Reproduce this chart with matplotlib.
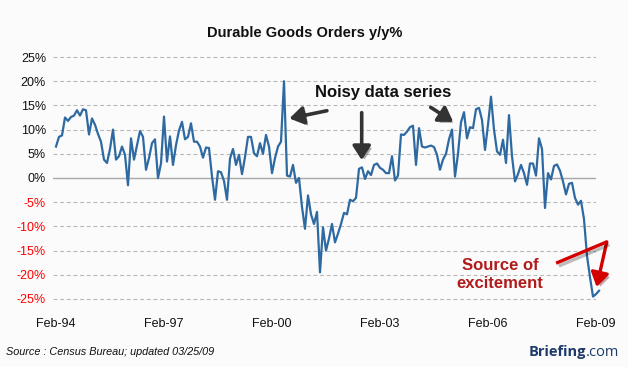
import matplotlib
matplotlib.use("Agg")
import matplotlib.pyplot as plt
import matplotlib.patheffects as pe
import numpy as np

# Durable goods orders, y/y %, monthly Feb-94 .. Feb-09
yoy_1994_1996 = [6.5, 8.5, 8.8, 12.5, 11.8, 12.6, 12.9, 14.0, 12.9, 14.2, 14.0, 9.0,
                 12.3, 11.0, 9.1, 7.5, 3.8, 3.1, 6.0, 10.0, 3.8, 4.5, 6.5, 4.8]
yoy_1996_1998 = [-1.5, 8.2, 3.8, 6.8, 9.7, 8.5, 1.7, 4.1, 7.2, 8.0, 0.0, 3.0,
                 12.7, 3.4, 8.6, 2.7, 6.8, 9.8, 11.6, 8.0, 8.5, 11.3, 7.5, 7.5]
yoy_1998_2000 = [6.5, 4.2, 6.3, 6.2, 0.3, -4.5, 1.4, 1.2, -0.6, -4.5, 4.0, 6.0,
                 2.7, 4.8, 0.8, 4.3, 8.5, 8.5, 5.1, 4.5, 7.2, 5.0, 8.9, 6.5]
yoy_2000_2002 = [1.0, 4.1, 6.5, 7.5, 20.0, 0.5, 0.3, 2.7, -1.0, 0.0, -6.0, -10.5,
                 -3.6, -7.5, -9.5, -7.0, -19.5, -10.2, -15.0, -12.5, -9.5, -13.3, -11.5, -9.5]
yoy_2002_2004 = [-7.2, -7.5, -4.5, -4.8, -4.1, 1.9, 2.2, -0.2, 1.4, 0.6, 2.7, 3.0,
                 2.1, 1.7, 1.0, 1.0, 4.5, -0.5, 0.5, 9.0, 8.9, 9.6, 10.5, 10.8]
yoy_2004_2006 = [2.7, 10.3, 6.5, 6.3, 6.5, 6.7, 6.4, 4.8, 1.7, 3.8, 5.0, 8.0,
                 10.0, 0.3, 5.0, 11.5, 13.6, 8.2, 10.5, 10.3, 14.2, 14.5, 12.0, 5.8]
yoy_2006_2009 = [11.0, 16.8, 10.0, 5.5, 4.8, 7.9, 3.1, 13.0, 4.5, -0.7, 0.8, 2.7,
                 1.0, -1.4, 3.0, 3.0, 0.5, 8.2, 6.0, -6.2, 1.0, -0.3, 2.5, 2.8,
                 1.5, -0.7, -3.4, -1.2, -1.0, -4.1, -5.5, -4.7, -8.5, -16.1, -20.5,
                 -24.5, -24.0, -23.3]

yoy = (yoy_1994_1996 + yoy_1996_1998 + yoy_1998_2000 + yoy_2000_2002
       + yoy_2002_2004 + yoy_2004_2006 + yoy_2006_2009)
months = np.arange(len(yoy))  # 0 = Feb-94

tick_pos = [0, 36, 72, 108, 144, 180]
tick_labels = ['Feb-94', 'Feb-97', 'Feb-00', 'Feb-03', 'Feb-06', 'Feb-09']
y_ticks = [25, 20, 15, 10, 5, 0, -5, -10, -15, -20, -25]

W, H = 628, 367
bg = '#fbfbfb'
fig = plt.figure(figsize=(W / 100, H / 100), dpi=100, facecolor=bg)
ax = fig.add_axes([53 / W, 1 - 301.4 / H, (596 - 53) / W, (301.4 - 54.6) / H])
ax.set_facecolor(bg)

for v in y_ticks:
    if v == 0:
        ax.axhline(0, color='#a8a8a8', lw=1.0, zorder=1)
    else:
        ax.axhline(v, color='#b8b8b8', lw=0.8, ls=(0, (3.5, 2.5)), zorder=1)

ax.plot(months, yoy, color='#2e6aa1', lw=1.6, zorder=3, clip_on=False,
        solid_joinstyle='round')

ax.set_xlim(-1, 180)
ax.set_ylim(-25.5, 25.5)
for s in ax.spines.values():
    s.set_visible(False)

ax.set_xticks(tick_pos)
ax.set_xticklabels(tick_labels, fontsize=9, family='Liberation Sans', color='#111111')
ax.set_yticks(y_ticks)
ax.set_yticklabels(['%d%%' % v for v in y_ticks], fontsize=9, family='Liberation Sans')
for lab, v in zip(ax.get_yticklabels(), y_ticks):
    lab.set_color('red' if v < 0 else '#111111')
ax.tick_params(axis='both', length=0)
ax.tick_params(axis='x', pad=12)
ax.tick_params(axis='y', pad=5)

fig.text(0.485, 1 - 33 / H, 'Durable Goods Orders y/y%', ha='center', va='center',
         fontsize=10.5, fontweight='bold', family='Liberation Sans', color='#111111')

# annotations
shadow = [pe.SimplePatchShadow(offset=(2, -2), alpha=0.35), pe.Normal()]
ax.text(109, 17.6, 'Noisy data series', ha='center', va='center', fontsize=12,
        fontweight='bold', family='Liberation Sans', color='#111111')
arrow_kw = dict(arrowstyle='-|>,head_length=0.7,head_width=0.45', color='#333333',
                lw=2.6, shrinkA=0, shrinkB=0, mutation_scale=12, path_effects=shadow)
ax.annotate('', xy=(77.8, 12.3), xytext=(90.3, 13.9), arrowprops=arrow_kw)
ax.annotate('', xy=(101.9, 3.7), xytext=(101.9, 13.5), arrowprops=arrow_kw)
ax.annotate('', xy=(132.4, 11.6), xytext=(124.9, 14.6), arrowprops=arrow_kw)

ax.text(148, -20, 'Source of\nexcitement', ha='center', va='center', fontsize=12,
        fontweight='bold', family='Liberation Sans', color='#b01c1c', linespacing=1.25)
ax.plot([166.7, 183.6], [-17.6, -13.2], color='#d40000', lw=2.4, clip_on=False,
        solid_capstyle='butt', zorder=4,
        path_effects=[pe.SimpleLineShadow(offset=(2, -2), alpha=0.25), pe.Normal()])
red_kw = dict(arrow_kw)
red_kw['color'] = '#d40000'
red_kw['lw'] = 2.4
ax.annotate('', xy=(180.2, -22.5), xytext=(183.6, -13.2), arrowprops=red_kw,
            annotation_clip=False)

fig.text(6 / W, 1 - 352 / H, 'Source : Census Bureau; updated 03/25/09', ha='left',
         va='center', fontsize=7.8, style='italic', family='Liberation Sans', color='#111111')
fig.text(586 / W, 1 - 352 / H, 'Briefing', ha='right', va='center', fontsize=10.5,
         fontweight='bold', family='Open Sans', color='#1d3a6b')
fig.text(586 / W, 1 - 352 / H, '.com', ha='left', va='center', fontsize=10.5,
         family='Open Sans', color='#1d3a6b')

fig.savefig('out.png', dpi=100, facecolor=bg)
